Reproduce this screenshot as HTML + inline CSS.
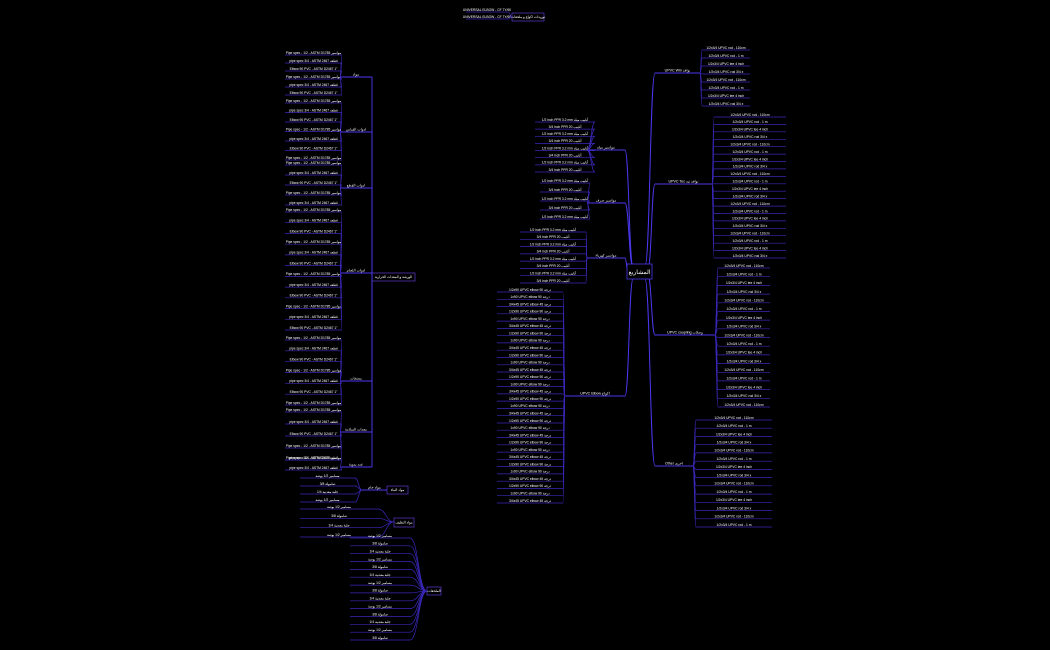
<!DOCTYPE html>
<html><head><meta charset="utf-8"><style>
html,body{margin:0;padding:0;background:#000;width:1050px;height:650px;overflow:hidden}
svg{display:block}
text{font-family:"Liberation Sans","Noto Sans CJK SC",sans-serif;fill:#fff}
</style></head><body>
<svg id="s" width="1050" height="650" viewBox="0 0 1050 650" xmlns="http://www.w3.org/2000/svg">
<rect width="1050" height="650" fill="#000"/>
<g id="g"></g>
<rect x="627" y="264" width="25" height="15" fill="#000" stroke="#4a3af0" stroke-width="0.8"/>
<text x="639.5" y="274" font-size="6" text-anchor="middle" fill="#6a5aff">المشاريع</text>
</svg>
<script>
var g=document.getElementById('g'),NS='http://www.w3.org/2000/svg';
function el(t,a,txt){var e=document.createElementNS(NS,t);for(var k in a)e.setAttribute(k,a[k]);if(txt)e.textContent=txt;g.appendChild(e);return e;}
function cur(x1,y1,x2,y2,c,w){var m=(x1+x2)/2;el('path',{d:'M'+x1+' '+y1+' C'+m+' '+y1+','+m+' '+y2+','+x2+' '+y2,fill:'none',stroke:c,'stroke-width':w});}
var L='#3a28b8',M='#4c38f0';
function leaves(px,py,side,x,w,y0,y1,n,txts){
 for(var i=0;i<n;i++){var y=n>1?y0+(y1-y0)*i/(n-1):y0;y=Math.round(y*10)/10;
  var t=txts[i%txts.length];
  el('line',{x1:x,y1:y,x2:x+w,y2:y,stroke:L,'stroke-width':0.7});
  el('text',{x:x+w/2,y:y-1.2,'font-size':3.3,'text-anchor':'middle'},t);
  if(side>0)cur(px,py,x,y,L,0.7);else cur(px,py,x+w,y,L,0.7);}
}
function lab(x,w,y,t,c){el('line',{x1:x,y1:y,x2:x+w,y2:y,stroke:c||M,'stroke-width':0.9});el('text',{x:x+w/2,y:y-1.3,'font-size':3.6,'text-anchor':'middle'},t);}
function box(x,y,w,h,t){el('rect',{x:x,y:y,width:w,height:h,fill:'#000',stroke:'#5a3acc','stroke-width':0.7});el('text',{x:x+w/2,y:y+h/2+1.2,'font-size':3.4,'text-anchor':'middle'},t);}
var R=['1/2x3/4 UPVC rod - 110cm','1/2x3/4 UPVC rod - 1 m','1/2x3/4 UPVC tee 4 inch','1/2x3/4 UPVC rod 3/4 x'];
var E=['1/2x90 UPVC elbow 90 درجة','1x90 UPVC elbow 90 درجة','3/4x45 UPVC elbow 45 درجة'];
var W=['1/2 inch PPR 3.2 mm أنابيب مياه','3/4 inch PPR 20 أنابيب'];
var A=['Pipe spec - 1/2 - ASTM D1785 مواسير','pipe spec 3/4 - ASTM 2467 قطعة','Elbow 90 PVC - ASTM D2467 1"'];
var Ar=['مسامير 1/2 بوصة','صامولة 3/8','جلبة معدنية 1/4'];
cur(645,266,655,73,M,1);lab(655,45,73,'UPVC Win نوافذ');leaves(700,73,1,702,48,50,106,8,R);
cur(648,268,655,184,M,1);lab(655,57,184,'UPVC Tec نوافذ تيه');leaves(712,184,1,714,72,117,258,20,R);
cur(648,276,655,335,M,1);lab(655,60,335,'UPVC coupling وصلات');leaves(715,335,1,718,52,268,407,17,R);
cur(645,279,655,466,M,1);lab(655,38,466,'Other اخرى');leaves(693,466,1,696,76,420,527,14,R);
cur(633,266,625,150,M,1);lab(587,38,150,'مواسير مياه');leaves(587,150,-1,535,60,122,172,8,W);
cur(633,267,625,203,M,1);lab(587,38,203,'مواسير صرف');leaves(587,203,-1,540,50,183,219,5,W);
cur(628,271,625,258,M,1);lab(587,38,258,'مواسير كهرباء');leaves(587,258,-1,520,66,232,283,8,W);
cur(633,279,625,396,M,1);lab(565,60,396,'UPVC Elbow اكواع');leaves(565,396,-1,497,66,292,503,30,E);
box(512,13,32,8,'توريدات اكواع و ملحقات');leaves(512,17,-1,466,42,12,19,2,['UNIVERSAL ELBOW - CF 7Y/60']);
box(372,273,43,8,'الورشة و المعدات الحرارية');
var subs=[[77,55,95,6],[132,103,160,7],[188,165,205,5],[273,212,330,12],[381,340,405,7],[432,412,460,5],[467,460,470,2]];
subs.forEach(function(s,i){var names=['مواد','ادوات القياس','ادوات القطع','ادوات اللحام','مضخات','معدات السلامة','عدد يدوية'];
 cur(372,277,372,s[0],M,0.9);lab(340,32,s[0],names[i]);leaves(340,s[0],-1,285,57,s[1],s[2],s[3],A);});
box(387,486,21,8,'مواد البناء');lab(362,25,490,'مواد خام');leaves(362,490,-1,300,55,478,502,4,Ar);
box(394,518,20,9,'مواد التغليف');leaves(394,522,-1,300,78,509,537,4,Ar);
box(427,587,14,8,'الملحقات');leaves(427,591,-1,350,60,538,640,14,Ar);
</script>
</body></html>
